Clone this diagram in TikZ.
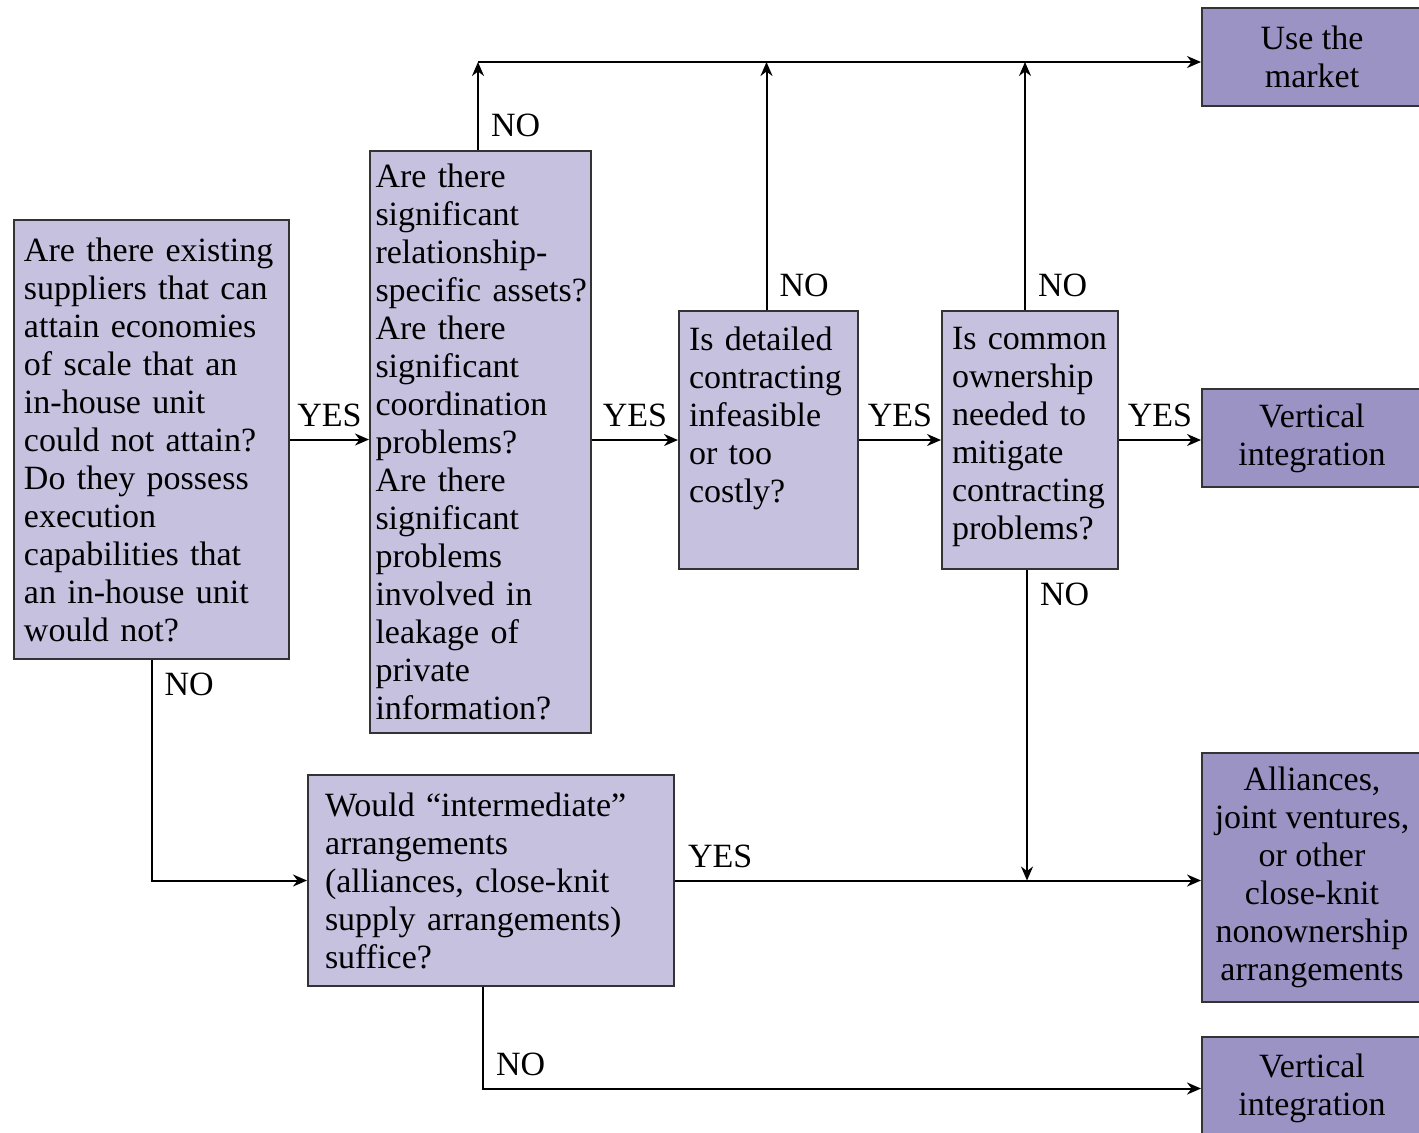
\documentclass[tikz,border=0pt]{standalone}
\usepackage{fontspec}
\setmainfont{Liberation Serif}
\usetikzlibrary{arrows.meta}
\definecolor{qfill}{RGB}{198,193,223}
\definecolor{ofill}{RGB}{156,147,197}
\begin{document}
\begin{tikzpicture}[x=0.5pt,y=-0.5pt,line width=1pt,font=\fontsize{17}{19}\selectfont,
	>={Stealth[length=7pt,width=6pt]},
	qbox/.style={draw=black!80,fill=qfill,align=left,inner xsep=5pt,inner ysep=4pt},
	obox/.style={draw=black!80,fill=ofill,align=center,minimum width=110pt},
	lbl/.style={inner sep=6pt}]
	\useasboundingbox (0,0) rectangle (1419,1132);
	% questions
	\node[qbox,text width=127.5pt,minimum height=219.5pt] (q1) at (151.5,439.5) {Are there existing\\suppliers that can\\attain economies\\of scale that an\\in-house unit\\could not attain?\\Do they possess\\execution\\capabilities that\\an in-house unit\\would not?};
	\node[qbox,text width=105pt,inner xsep=2.75pt,minimum height=291pt] (q2) at (480.5,442) {Are there\\significant\\relationship-\\\mbox{specific assets?}\\Are there\\significant\\coordination\\problems?\\Are there\\significant\\problems\\involved in\\leakage of\\private\\information?};
	\node[qbox,text width=79.5pt,inner ysep=8pt] (q3) at (768.5,440) {\parbox[c][113pt][t]{\linewidth}{\raggedright Is detailed\\contracting\\infeasible\\or too\\costly?}};
	\node[qbox,text width=78pt,inner ysep=8pt] (q4) at (1030,440) {\parbox[c][113pt][t]{\linewidth}{\raggedright Is common\\ownership\\needed to\\mitigate\\contracting\\problems?}};
	\node[qbox,text width=166pt,inner xsep=8.5pt,minimum height=105.5pt] (q5) at (491,880.5) {Would “intermediate”\\arrangements\\(alliances, close-knit\\supply arrangements)\\suffice?};
	% outcomes
	\node[obox,minimum height=49pt] (out1) at (1312,57) {Use the\\market};
	\node[obox,minimum height=49pt] (out2) at (1312,438) {Vertical\\integration};
	\node[obox,minimum height=124.5pt] (out3) at (1312,877.5) {Alliances,\\joint ventures,\\or other\\close-knit\\nonownership\\arrangements};
	\node[obox,minimum height=51.5pt] (out4) at (1312,1088.5) {Vertical\\integration};
	% connectors
	\coordinate (top) at (478,62);
	\draw[->] (q1.east) -- (q1.east -| q2.west) node[lbl,midway,above]{YES};
	\draw[->] (q3.west -| q2.east) -- (q3.west) node[lbl,midway,above]{YES};
	\draw[->] (q3.east) -- (q4.west) node[lbl,midway,above]{YES};
	\draw[->] (q4.east) -- (q4.east -| out2.west) node[lbl,midway,above]{YES};
	\draw[->] (q2.north -| top) -- (top) node[lbl,pos=0,above right]{NO};
	\draw[->] (top) -- (top -| out1.west);
	\draw[->] ([xshift=-1pt]q3.north) -- ([xshift=-1pt]q3.north |- top) node[lbl,pos=0,above right]{NO};
	\draw[->] ([xshift=-2.5pt]q4.north) -- ([xshift=-2.5pt]q4.north |- top) node[lbl,pos=0,above right]{NO};
	\draw[->] ([xshift=-1.5pt]q4.south) -- ([xshift=-1.5pt]q4.south |- q5.east) node[lbl,pos=0,below right]{NO};
	\draw[->] (q1.south) |- (q5.west) node[lbl,pos=0,below right]{NO};
	\draw[->] (q5.east) -- (q5.east -| out3.west) node[lbl,pos=0,above right]{YES};
	\draw[->] ([xshift=-4pt]q5.south) |- (out4.west) node[lbl,pos=0.5,above right]{NO};
\end{tikzpicture}
\end{document}
